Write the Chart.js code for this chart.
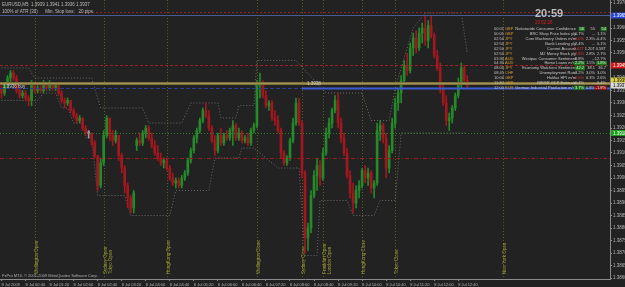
<!DOCTYPE html>
<html>
<head>
<meta charset="utf-8">
<title>EURUSD,M5</title>
<script src="https://cdn.jsdelivr.net/npm/chart.js@4.4.1/dist/chart.umd.min.js"></script>
<style>
  html, body { margin: 0; padding: 0; background: #212121; overflow: hidden; }
  #box { position: relative; width: 625px; height: 287px; }
</style>
</head>
<body>
<div id="box"><canvas id="priceChart"></canvas></div>
<script>
// time axis labels (one every 8 candles) and price ticks
const timeLabels = ['8 Jul 2009', '8 Jul 00:40', '8 Jul 01:20', '8 Jul 02:00', '8 Jul 02:40', '8 Jul 03:20',
  '8 Jul 04:00', '8 Jul 04:40', '8 Jul 05:20', '8 Jul 06:00', '8 Jul 06:40', '8 Jul 07:20', '8 Jul 08:00',
  '8 Jul 08:40', '8 Jul 09:20', '8 Jul 10:00', '8 Jul 10:40', '8 Jul 11:20', '8 Jul 12:00', '8 Jul 12:40'];
const priceTicks = [1.3970, 1.3965, 1.3960, 1.3955, 1.3950, 1.3945, 1.3940, 1.3935, 1.3930, 1.3925, 1.3920,
  1.3915, 1.3910, 1.3905, 1.3900, 1.3895, 1.3890, 1.3885, 1.3880, 1.3875, 1.3870, 1.3865, 1.3860];

// M5 candles
const opens = [1.3936,1.3934,1.3937,1.3940,1.3942,1.3940,1.3935,1.3933,1.3934,1.3932,
  1.3931,1.3937,1.3935,1.3936,1.3935,1.3937,1.3936,1.3938,1.3936,1.3937,
  1.3934,1.3931,1.3930,1.3931,1.3927,1.3925,1.3923,1.3924,1.3920,1.3918,
  1.3918,1.3914,1.3909,1.3897,1.3906,1.3917,1.3924,1.3917,1.3915,1.3917,
  1.3909,1.3904,1.3897,1.3892,1.3888,1.3913,1.3915,1.3914,1.3918,1.3920,
  1.3916,1.3913,1.3910,1.3908,1.3906,1.3907,1.3904,1.3900,1.3898,1.3899,
  1.3897,1.3900,1.3902,1.3907,1.3911,1.3916,1.3919,1.3923,1.3927,1.3925,
  1.3920,1.3915,1.3911,1.3917,1.3914,1.3917,1.3916,1.3919,1.3921,1.3916,
  1.3918,1.3915,1.3916,1.3914,1.3919,1.3921,1.3937,1.3938,1.3933,1.3929,
  1.3930,1.3924,1.3923,1.3919,1.3910,1.3906,1.3908,1.3915,1.3922,1.3930,
  1.3922,1.3902,1.3876,1.3880,1.3893,1.3901,1.3905,1.3900,1.3910,1.3918,
  1.3922,1.3927,1.3931,1.3922,1.3916,1.3910,1.3901,1.3894,1.3890,1.3895,
  1.3897,1.3903,1.3900,1.3902,1.3896,1.3898,1.3919,1.3921,1.3916,1.3904,
  1.3911,1.3922,1.3930,1.3934,1.3939,1.3945,1.3943,1.3952,1.3956,1.3952,
  1.3958,1.3960,1.3955,1.3961,1.3957,1.3949,1.3944,1.3936,1.3930,1.3923,
  1.3924,1.3928,1.3933,1.3938,1.3944,1.3939];
const highs = [1.3937,1.3938,1.3941,1.3943,1.3943,1.3941,1.3936,1.3935,1.3935,1.3933,
  1.3939,1.3937,1.3937,1.3937,1.3939,1.3938,1.3939,1.3938,1.3938,1.3937,
  1.3935,1.3932,1.3932,1.3931,1.3928,1.3926,1.3925,1.3924,1.3921,1.3919,
  1.3918,1.3915,1.3909,1.3908,1.3919,1.3925,1.3924,1.3919,1.3919,1.3917,
  1.3910,1.3905,1.3898,1.3893,1.3895,1.3916,1.3918,1.3919,1.3921,1.3921,
  1.3918,1.3915,1.3913,1.3910,1.3908,1.3908,1.3905,1.3902,1.3900,1.3900,
  1.3901,1.3903,1.3908,1.3912,1.3917,1.3920,1.3924,1.3928,1.3930,1.3927,
  1.3921,1.3917,1.3918,1.3920,1.3918,1.3919,1.3920,1.3923,1.3922,1.3920,
  1.3919,1.3917,1.3918,1.3920,1.3922,1.3939,1.3942,1.3939,1.3935,1.3931,
  1.3931,1.3927,1.3925,1.3920,1.3911,1.3909,1.3916,1.3924,1.3932,1.3932,
  1.3923,1.3903,1.3882,1.3895,1.3903,1.3908,1.3907,1.3912,1.3920,1.3924,
  1.3928,1.3933,1.3934,1.3924,1.3918,1.3912,1.3903,1.3898,1.3897,1.3899,
  1.3904,1.3905,1.3904,1.3903,1.3899,1.3922,1.3923,1.3922,1.3918,1.3913,
  1.3924,1.3932,1.3936,1.3941,1.3947,1.3950,1.3954,1.3958,1.3959,1.3960,
  1.3962,1.3965,1.3963,1.3965,1.3958,1.3951,1.3946,1.3938,1.3933,1.3926,
  1.3929,1.3934,1.3940,1.3946,1.3945,1.3941];
const lows = [1.3932,1.3933,1.3936,1.3938,1.3939,1.3934,1.3932,1.3932,1.3931,1.3929,
  1.3929,1.3934,1.3934,1.3934,1.3934,1.3935,1.3935,1.3935,1.3935,1.3933,
  1.3930,1.3928,1.3929,1.3926,1.3924,1.3922,1.3922,1.3919,1.3917,1.3916,
  1.3913,1.3908,1.3895,1.3896,1.3905,1.3916,1.3915,1.3913,1.3914,1.3907,
  1.3902,1.3894,1.3888,1.3886,1.3886,1.3911,1.3913,1.3913,1.3916,1.3915,
  1.3912,1.3909,1.3907,1.3905,1.3904,1.3903,1.3899,1.3897,1.3896,1.3896,
  1.3896,1.3899,1.3901,1.3906,1.3910,1.3914,1.3918,1.3922,1.3924,1.3919,
  1.3914,1.3909,1.3910,1.3913,1.3913,1.3915,1.3915,1.3913,1.3915,1.3915,
  1.3914,1.3914,1.3913,1.3913,1.3918,1.3920,1.3932,1.3932,1.3928,1.3927,
  1.3923,1.3921,1.3918,1.3908,1.3905,1.3905,1.3907,1.3914,1.3921,1.3921,
  1.3900,1.3870,1.3871,1.3878,1.3892,1.3895,1.3897,1.3899,1.3909,1.3916,
  1.3920,1.3926,1.3920,1.3914,1.3909,1.3900,1.3892,1.3886,1.3888,1.3892,
  1.3896,1.3898,1.3897,1.3894,1.3892,1.3897,1.3915,1.3914,1.3900,1.3902,
  1.3910,1.3920,1.3927,1.3930,1.3938,1.3941,1.3942,1.3949,1.3950,1.3951,
  1.3954,1.3953,1.3952,1.3956,1.3948,1.3943,1.3934,1.3929,1.3921,1.3919,
  1.3922,1.3927,1.3932,1.3936,1.3938,1.3936];
const closes = [1.3934,1.3937,1.3940,1.3942,1.3940,1.3935,1.3933,1.3934,1.3932,1.3931,
  1.3937,1.3935,1.3936,1.3935,1.3937,1.3936,1.3938,1.3936,1.3937,1.3934,
  1.3931,1.3930,1.3931,1.3927,1.3925,1.3923,1.3924,1.3920,1.3918,1.3918,
  1.3914,1.3909,1.3897,1.3906,1.3917,1.3924,1.3917,1.3915,1.3917,1.3909,
  1.3904,1.3897,1.3892,1.3888,1.3894,1.3915,1.3914,1.3918,1.3920,1.3916,
  1.3913,1.3910,1.3908,1.3906,1.3907,1.3904,1.3900,1.3898,1.3899,1.3897,
  1.3900,1.3902,1.3907,1.3911,1.3916,1.3919,1.3923,1.3927,1.3925,1.3920,
  1.3915,1.3911,1.3917,1.3914,1.3917,1.3916,1.3919,1.3921,1.3916,1.3918,
  1.3915,1.3916,1.3914,1.3919,1.3921,1.3937,1.3938,1.3933,1.3929,1.3930,
  1.3924,1.3923,1.3919,1.3910,1.3906,1.3908,1.3915,1.3922,1.3930,1.3922,
  1.3902,1.3876,1.3880,1.3893,1.3901,1.3905,1.3900,1.3910,1.3918,1.3922,
  1.3927,1.3931,1.3922,1.3916,1.3910,1.3901,1.3894,1.3890,1.3895,1.3897,
  1.3903,1.3900,1.3902,1.3896,1.3898,1.3919,1.3921,1.3916,1.3904,1.3911,
  1.3922,1.3930,1.3934,1.3939,1.3945,1.3943,1.3952,1.3956,1.3952,1.3958,
  1.3960,1.3955,1.3961,1.3957,1.3949,1.3944,1.3936,1.3930,1.3923,1.3924,
  1.3928,1.3933,1.3938,1.3944,1.3939,1.3937];

// gray dotted hi/lo channel (candle index, price)
const chanHiIdx = [0, 9, 11, 30, 33, 47, 49, 60, 63, 72, 73, 78, 79, 84, 85, 98, 108, 120, 123, 129, 131, 134, 137, 141, 153, 155];
const chanHiVal = [1.3944,1.3944,1.3940,1.3940,1.3928,1.3928,1.3922,1.3922,1.3930,1.3930,1.3924,1.3924,1.3929,
  1.3929,1.3947,1.3947,1.3934,1.3934,1.3923,1.3923,1.3936,1.3948,1.3960,1.3966,1.3966,1.3950];
const chanLoIdx = [0, 12, 14, 18, 20, 22, 24, 27, 28, 30, 32, 41, 43, 56, 58, 69, 71, 79, 80, 84, 92, 99, 101, 105,
  106, 115, 117, 124, 126, 131, 133, 155];
const chanLoVal = [1.3931,1.3931,1.3934,1.3934,1.3928,1.3928,1.3922,1.3922,1.3916,1.3916,1.3893,1.3893,1.3885,
  1.3885,1.3895,1.3895,1.3908,1.3908,1.3912,1.3912,1.3904,1.3904,1.3869,1.3869,1.3891,1.3891,1.3885,1.3885,
  1.3891,1.3891,1.3918,1.3918];

// horizontal levels and the price tags on the axis
const levelPrices = [1.3966, 1.3965, 1.3945, 1.3938, 1.3936, 1.3918, 1.3908];
const axisTagPrices = [1.3965, 1.3945, 1.3939, 1.3937, 1.3918];

// session markers
const sessionIdx = [11, 34, 55, 85, 100, 107, 120, 131, 167];
const sessionNames = ['Wellington Open', 'Sydney Open\nTokyo Open', 'HongKong Open', 'Wellington Close',
  'Sydney Close', 'Frankfurt Open\nLondon Open', 'HongKong Close', 'Tokyo Close', 'New York Open'];

// news panel
const evTimes = ['00:01', '00:01', '02:50', '02:50', '02:50', '02:50', '03:30', '04:30', '08:00', '08:45', '10:00', '11:30', '12:00'];
const evCcy = ['GBP', 'GBP', 'JPY', 'JPY', 'JPY', 'JPY', 'AUD', 'AUD', 'JPY', 'CHF', 'GBP', 'GBP', 'EUR'];
const evNames = ['Nationwide Consumer Confidence', 'BRC Shop Price Index y/y', 'Core Machinery Orders m/m',
  'Bank Lending y/y', 'Current Account', 'M2 Money Stock y/y', 'Westpac Consumer Sentiment', 'Home Loans m/m',
  'Economy Watchers Sentiment', 'Unemployment Rate', 'Halifax HPI m/m', 'NIESR GDP Estimate',
  'German Industrial Production m/m'];
const evActual = ['56', '0.7%', '-3.0%', '2.4%', '1.02T', '2.6%', '8.8%', '2.2%', '42.2', '3.2%', '-0.6%', '-0.4%', '3.7%'];
const evForecast = ['55', '...', '2.3%', '...', '1.20T', '2.8%', '...', '1.5%', '38.1', '3.0%', '0.3%', '...', '0.8%'];
const evPrevious = ['54', '1.1%', '-0.4%', '0.1%', '0.58T', '2.7%', '12.7%', '1.8%', '36.7', '3.0%', '2.6%', '-0.4%', '-1.8%'];
const evSurprise = [1, 0, -1, 0, -1, -1, 0, 1, 1, 0, -1, 0, 1];
const evPrevMark = [1, 0, 0, 0, 0, 0, 0, 1, 0, 0, 0, 0, -1];

const SLOTS = 203;
const Y_MIN = 1.38596, Y_MAX = 1.39712;
const FONT = '"Liberation Sans", Arial, sans-serif';

const colors = {
  bg: '#222222',
  up: '#248a2a',
  down: '#a3171f',
  doji: '#9a9a9a',
  axis: '#8c8c8c',
  text: '#b4b4b4',
  session: '#5e5e1c',
  sessionText: '#a0a036',
  chan: '#6a6a6a'
};

Chart.defaults.font.family = FONT;
Chart.defaults.font.size = 4.5;
Chart.defaults.color = colors.text;

const slotLabels = Array.from({ length: SLOTS }, (_, i) => String(i));
const candleColor = closes.map((c, i) => c > opens[i] ? colors.up : (c < opens[i] ? colors.down : colors.doji));

function sparse(idx, vals) {
  const out = new Array(SLOTS).fill(null);
  idx.forEach((k, j) => { out[k] = vals[j]; });
  return out;
}

function hline(ctx, y, x0, x1, color, width, dash) {
  ctx.save();
  ctx.strokeStyle = color;
  ctx.lineWidth = width;
  ctx.setLineDash(dash || []);
  ctx.beginPath();
  ctx.moveTo(x0, y);
  ctx.lineTo(x1, y);
  ctx.stroke();
  ctx.restore();
}

const bgPlugin = {
  id: 'bg',
  beforeDraw(chart) {
    const { ctx, width, height } = chart;
    ctx.save();
    ctx.fillStyle = colors.bg;
    ctx.fillRect(0, 0, width, height);
    ctx.restore();
  }
};

// vertical session lines + rotated captions
const sessionPlugin = {
  id: 'sessions',
  beforeDatasetsDraw(chart) {
    const { ctx, chartArea: a, scales: { x } } = chart;
    ctx.save();
    sessionIdx.forEach((idx, k) => {
      const px = Math.round(x.getPixelForValue(idx)) + 0.5;
      ctx.strokeStyle = colors.session;
      ctx.lineWidth = 1;
      ctx.setLineDash([1, 2]);
      ctx.beginPath();
      ctx.moveTo(px, a.top);
      ctx.lineTo(px, a.bottom);
      ctx.stroke();
      ctx.save();
      ctx.translate(px + 2.5, a.bottom - 5);
      ctx.rotate(-Math.PI / 2);
      ctx.fillStyle = colors.sessionText;
      ctx.font = '4.5px ' + FONT;
      ctx.textAlign = 'left';
      ctx.textBaseline = 'alphabetic';
      sessionNames[k].split('\n').forEach((t, j) => ctx.fillText(t, 0, j * 4.8));
      ctx.restore();
    });
    ctx.restore();
  }
};

// price levels drawn over the candles
const levelPlugin = {
  id: 'levels',
  afterDatasetsDraw(chart) {
    const { ctx, chartArea: a, scales: { x, y } } = chart;
    const py = v => Math.round(y.getPixelForValue(v)) + 0.5;
    const splitX = x.getPixelForValue(sessionIdx[4]);
    hline(ctx, py(levelPrices[0]) - 1, 80, a.right, '#8e2020', 1, [2, 2]);
    hline(ctx, py(levelPrices[1]), a.left, a.right, '#4c5894', 1);
    hline(ctx, py(levelPrices[2]), a.left, a.right, '#9e2020', 1, [3, 2]);
    hline(ctx, py(levelPrices[3]), a.left, a.right, '#7c6f3c', 3);
    hline(ctx, py(levelPrices[3]), a.left, a.right, '#a39455', 1);
    hline(ctx, py(levelPrices[4]), a.left, splitX, '#2c3e92', 1, [4, 2]);
    hline(ctx, py(levelPrices[4]), splitX, a.right, '#3a5ad4', 2);
    hline(ctx, py(levelPrices[5]), a.left, a.right, '#2a7e2a', 1, [1, 2]);
    hline(ctx, py(levelPrices[6]), a.left, a.right, '#921e1e', 1, [4, 2, 1, 2]);

    ctx.save();
    ctx.font = '4.5px ' + FONT;
    ctx.fillStyle = '#cfcfcf';
    ctx.textBaseline = 'middle';
    ctx.fillText(levelPrices[3].toFixed(4), splitX + 5, py(levelPrices[3]) + 0.5);
    ctx.fillText(levelPrices[4].toFixed(4) + ' buy', 3, py(levelPrices[4]) - 1.5);
    ctx.restore();
  }
};

// header, copyright, axis tags and the news panel
const overlayPlugin = {
  id: 'overlay',
  afterDraw(chart) {
    const { ctx, chartArea: a, scales: { y } } = chart;
    const last = opens.length - 1;
    ctx.save();
    ctx.textBaseline = 'middle';
    ctx.textAlign = 'left';
    ctx.font = '4.5px ' + FONT;
    ctx.fillStyle = '#bcbcbc';
    ctx.fillText('EURUSD,M5  ' + [opens[last], highs[last], lows[last], closes[last]].map(v => v.toFixed(4)).join(' '), 2, 5);
    ctx.fillText('100% of ATR (30)      Min. Stop loss:   20 pips', 2, 12);
    ctx.font = '4px ' + FONT;
    ctx.fillStyle = '#b0b0b0';
    ctx.fillText('FxPro MT4, \u00a9 2001-2009 MetaQuotes Software Corp.', 2, a.bottom - 3);

    // tags on the price axis
    const tagBg = ['#2846d8', '#d01818', '#d8d040', '#d8d8d8', '#1e9e1e'];
    const tagFg = ['#ffffff', '#ffffff', '#000000', '#000000', '#ffffff'];
    axisTagPrices.forEach((p, k) => {
      const yy = y.getPixelForValue(p);
      ctx.fillStyle = tagBg[k];
      ctx.fillRect(a.right + 1, yy - 3, 16, 6);
      ctx.fillStyle = tagFg[k];
      ctx.font = '4.5px ' + FONT;
      ctx.fillText(p.toFixed(4), a.right + 3, yy + 0.3);
    });

    // clock
    ctx.font = 'bold 11px ' + FONT;
    ctx.fillStyle = '#bdbdbd';
    ctx.fillText('20:59', 535, 14);
    ctx.font = '4.5px ' + FONT;
    ctx.fillStyle = '#d42222';
    ctx.fillText('20:52:26', 535, 23);

    // news rows
    ctx.font = '4px ' + FONT;
    evNames.forEach((name, r) => {
      const yy = 29 + r * 4.9;
      ctx.textAlign = 'left';
      ctx.fillStyle = '#c0c0c0';
      ctx.fillText(evTimes[r], 494, yy);
      ctx.fillStyle = '#d89a2a';
      ctx.fillText(evCcy[r], 505, yy);
      ctx.textAlign = 'right';
      ctx.fillStyle = '#c8c8c8';
      ctx.fillText(name, 576, yy);

      const cells = [[evActual[r], 584, evSurprise[r]], [evForecast[r], 595, 0], [evPrevious[r], 606, evPrevMark[r]]];
      cells.forEach(([txt, xr, mark], c) => {
        const w = ctx.measureText(txt).width;
        if (mark === 1) {
          ctx.fillStyle = '#1d6e1d';
          ctx.fillRect(xr - w - 1, yy - 2.2, w + 2, 4.4);
          ctx.fillStyle = '#d8ffd8';
        } else if (mark === -1 && c === 2) {
          ctx.fillStyle = '#8c1414';
          ctx.fillRect(xr - w - 1, yy - 2.2, w + 2, 4.4);
          ctx.fillStyle = '#ffdede';
        } else if (mark === -1) {
          ctx.fillStyle = '#e23a3a';
        } else {
          ctx.fillStyle = '#c8c8c8';
        }
        ctx.fillText(txt, xr, yy);
      });
    });
    ctx.restore();
  }
};

new Chart(document.getElementById('priceChart'), {
  type: 'bar',
  data: {
    labels: slotLabels,
    datasets: [
      {
        label: 'body',
        data: opens.map((o, i) => [o, closes[i]]),
        backgroundColor: candleColor,
        barThickness: 2,
        minBarLength: 1,
        grouped: false,
        borderWidth: 0,
        order: 0
      },
      {
        label: 'wick',
        data: lows.map((l, i) => [l, highs[i]]),
        backgroundColor: candleColor,
        barThickness: 1,
        grouped: false,
        borderWidth: 0,
        order: 1
      },
      {
        type: 'line',
        label: 'hi',
        data: sparse(chanHiIdx, chanHiVal),
        borderColor: colors.chan,
        borderWidth: 1,
        borderDash: [1, 2],
        pointRadius: 0,
        spanGaps: true,
        tension: 0,
        order: 5
      },
      {
        type: 'line',
        label: 'lo',
        data: sparse(chanLoIdx, chanLoVal),
        borderColor: colors.chan,
        borderWidth: 1,
        borderDash: [1, 2],
        pointRadius: 0,
        spanGaps: true,
        tension: 0,
        order: 5
      }
    ]
  },
  options: {
    responsive: true,
    maintainAspectRatio: false,
    animation: false,
    events: [],
    layout: { padding: 0 },
    plugins: {
      legend: { display: false },
      tooltip: { enabled: false },
      title: { display: false }
    },
    scales: {
      x: {
        offset: true,
        grid: {
          drawOnChartArea: false,
          offset: false,
          tickLength: 2,
          color: ctx => (ctx.index % 8 === 0 && ctx.index / 8 < timeLabels.length) ? colors.axis : 'rgba(0,0,0,0)'
        },
        border: { display: true, color: colors.axis },
        ticks: {
          autoSkip: false,
          maxRotation: 0,
          minRotation: 0,
          align: 'start',
          padding: 1,
          color: colors.text,
          font: { size: 4 },
          callback: (v, i) => (i % 8 === 0 && i / 8 < timeLabels.length) ? timeLabels[i / 8] : ''
        },
        afterFit: s => { s.height = 8; s.paddingLeft = 0; s.paddingRight = 0; }
      },
      y: {
        position: 'right',
        min: Y_MIN,
        max: Y_MAX,
        afterBuildTicks: s => { s.ticks = priceTicks.map(v => ({ value: v })); },
        grid: { drawOnChartArea: false, tickLength: 2, color: colors.axis },
        border: { display: true, color: colors.axis },
        ticks: {
          autoSkip: false,
          padding: 1,
          color: colors.text,
          font: { size: 4.5 },
          callback: v => Number(v).toFixed(4)
        },
        afterFit: s => { s.width = 15; s.paddingTop = 0; s.paddingBottom = 0; }
      }
    }
  },
  plugins: [bgPlugin, sessionPlugin, levelPlugin, overlayPlugin]
});
</script>
</body>
</html>
